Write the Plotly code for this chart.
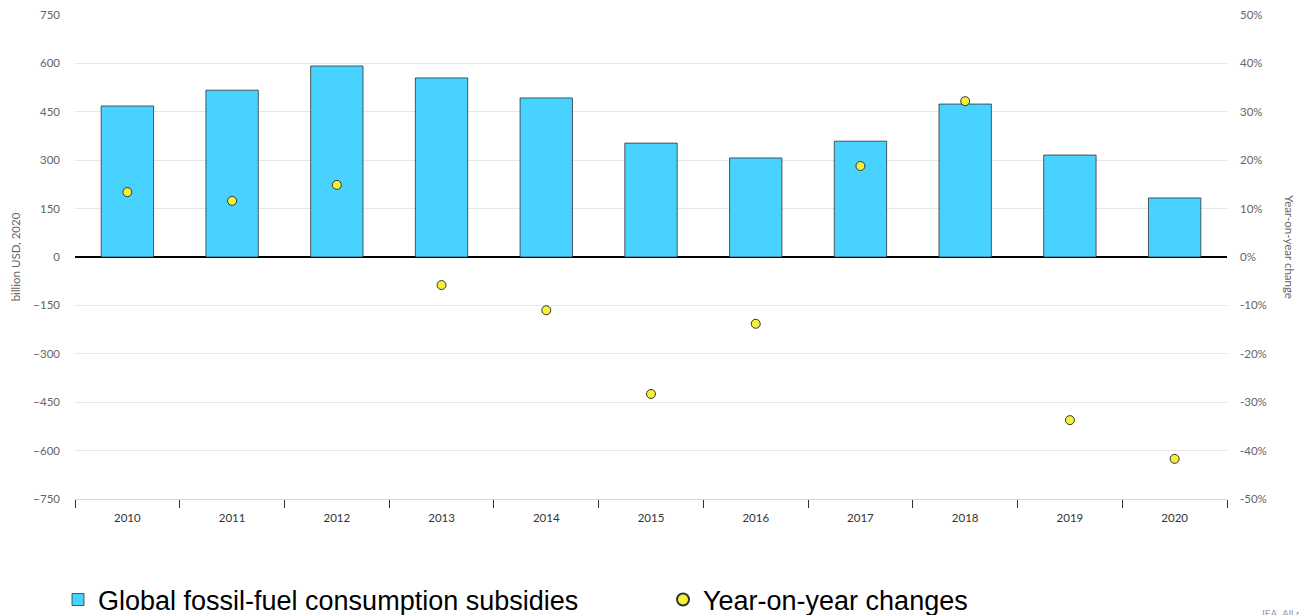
import plotly.graph_objects as go

years = ["2010", "2011", "2012", "2013", "2014", "2015", "2016", "2017", "2018", "2019", "2020"]
subsidies = [468, 517, 592, 555, 493, 353, 307, 359, 474, 316, 183]
yoy_change = [13.4, 11.6, 14.9, -5.8, -11.0, -28.3, -13.8, 18.8, 32.2, -33.7, -41.7]

left_ticks = [-750, -600, -450, -300, -150, 0, 150, 300, 450, 600, 750]
right_ticks = [-50, -40, -30, -20, -10, 0, 10, 20, 30, 40, 50]
right_tick_text = [f"{v}%" for v in right_ticks]

axis_font_family = "Lato, Open Sans, sans-serif"
tick_font = dict(family=axis_font_family, size=11.5, color="#666666")
legend_font = dict(family="Liberation Sans, Arial, sans-serif", size=27, color="#000000")

fig = go.Figure()
fig.add_trace(go.Bar(
    x=years, y=subsidies, name="Global fossil-fuel consumption subsidies",
    marker=dict(color="#48d2ff", line=dict(color="rgba(40,40,40,0.75)", width=1)),
    width=0.5, yaxis="y", legend="legend",
))
fig.add_trace(go.Scatter(
    x=years, y=yoy_change, name="Year-on-year changes", mode="markers",
    marker=dict(color="#f7f039", size=9, line=dict(color="#333333", width=1)),
    yaxis="y2", legend="legend2",
))

fig.update_layout(
    width=1299, height=615,
    margin=dict(l=75, r=72, t=15, b=116, autoexpand=False),
    paper_bgcolor="white", plot_bgcolor="white",
    bargap=0.5,
    showlegend=True,
    legend=dict(
        orientation="h", xref="container", yref="container",
        x=58 / 1299, y=1 - 600 / 615, xanchor="left", yanchor="middle",
        font=legend_font, itemwidth=30,
    ),
    legend2=dict(
        orientation="h", xref="container", yref="container",
        x=663 / 1299, y=1 - 600 / 615, xanchor="left", yanchor="middle",
        font=legend_font, itemwidth=30, itemsizing="constant",
    ),
    xaxis=dict(
        type="category", range=[-0.5, len(years) - 0.5],
        tickson="boundaries", ticks="outside", ticklen=8,
        tickcolor="#333333", tickwidth=1, showline=True, linecolor="#ccd6eb",
        linewidth=1, showgrid=False, automargin=False, ticklabelstandoff=8,
        tickfont=dict(family=axis_font_family, size=11.5, color="#333333"),
    ),
    yaxis=dict(
        range=[-750, 750], tickvals=left_ticks, showgrid=True, gridcolor="#e6e6e6",
        gridwidth=1, zeroline=True, zerolinecolor="#000000", zerolinewidth=1.5,
        tickfont=tick_font, ticklabelstandoff=14, automargin=False,
        title=dict(text="billion USD, 2020", font=dict(family=axis_font_family, size=11.5, color="#666666"), standoff=10),
    ),
    yaxis2=dict(
        range=[-50, 50], tickvals=right_ticks, ticktext=right_tick_text, overlaying="y", side="right",
        showgrid=False, zeroline=False, tickfont=tick_font, ticklabelstandoff=12, automargin=False,
    ),
    annotations=[
        dict(text="Year-on-year change", textangle=90, xref="paper", yref="paper",
             x=1.0 + 63 / 1152, y=0.52, xanchor="center", yanchor="middle", showarrow=False,
             font=dict(family=axis_font_family, size=11.5, color="#666666")),
        dict(text="IEA. All rights reserved.", xref="paper", yref="paper",
             x=1.0 + 33 / 1152, y=-106 / 484, xanchor="left", yanchor="top", showarrow=False,
             font=dict(family=axis_font_family, size=10, color="#999999")),
    ],
)

fig.write_html(
    "out.html",
    config={"displayModeBar": False},
    post_script="document.body.style.margin='0px';document.body.style.overflow='hidden';",
)
